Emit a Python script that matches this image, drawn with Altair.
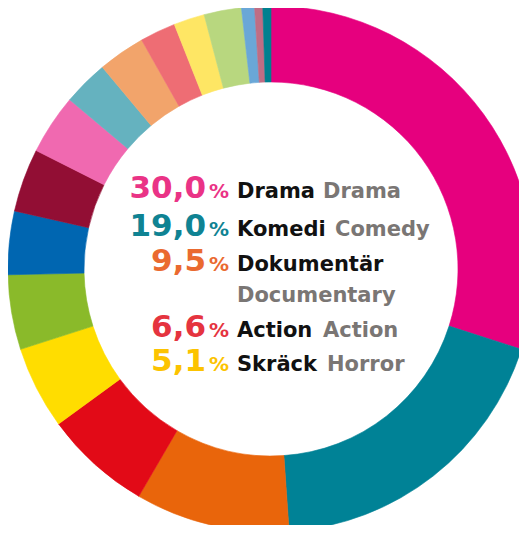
import altair as alt
import pandas as pd

categories = ["Drama", "Komedi", "Dokumentär", "Action", "Skräck", "Animation",
              "Thriller", "Kriminal", "Romantik", "Familj", "Äventyr",
              "Science fiction", "Fantasy", "Musikal", "Krig", "Western", "Övrigt"]
shares = [30.0, 19.0, 9.5, 6.6, 5.1, 4.6, 3.9, 3.9, 3.7, 2.8, 2.9, 2.2, 1.9, 2.3, 0.8, 0.5, 0.5]
slice_colors = ["#E6007E", "#008296", "#E9650B", "#E20A17", "#FFDD00", "#8ABA2A",
                "#0066B1", "#920E34", "#F069B0", "#65B2BF", "#F2A46B", "#EE6D74",
                "#FEE664", "#B8D77F", "#6AA7D7", "#BF6D84", "#00808F"]

pct_labels = ["30,0", "19,0", "9,5", "6,6", "5,1"]
sv_labels = ["Drama", "Komedi", "Dokumentär", "Action", "Skräck"]
en_labels = ["Drama", "Comedy", "Documentary", "Action", "Horror"]
pct_colors = ["#EA3386", "#0F8393", "#EA6A30", "#E5343F", "#FCC300"]

W, H = 511, 517
CX, CY = 263, 261
R_OUT, R_IN = 263, 187

df = pd.DataFrame({"cat": categories, "share": shares, "idx": list(range(len(categories)))})

color_scale = alt.Scale(domain=categories, range=slice_colors)
ring = alt.Chart(df).mark_arc(radius=R_OUT, radius2=R_IN, strokeWidth=0.6).encode(
    theta=alt.Theta("share:Q", stack=True),
    order=alt.Order("idx:Q"),
    color=alt.Color("cat:N", scale=color_scale, legend=None),
    stroke=alt.Stroke("cat:N", scale=color_scale, legend=None),
    x=alt.value(CX),
    y=alt.value(CY),
)

# text layout (pixels)
line_y = [190, 228, 263, 329, 363]
en_y = [190, 228, 294, 329, 363]
en_x = [315, 327, 229, 315, 319]

tdf = pd.DataFrame({
    "pct": pct_labels, "sv": sv_labels, "en": en_labels,
    "pcol": pct_colors, "y": line_y, "ey": en_y, "ex": en_x,
})

FONT = "DejaVu Sans"
base = alt.Chart(tdf)
num = base.mark_text(font=FONT, fontWeight="bold", fontSize=31, align="right", baseline="alphabetic").encode(
    x=alt.value(198), y=alt.Y("y:Q", scale=None), text="pct:N",
    color=alt.Color("pcol:N", scale=None))
pc = base.mark_text(font=FONT, fontWeight="bold", fontSize=20, align="right", baseline="alphabetic").encode(
    x=alt.value(221), y=alt.Y("y:Q", scale=None), text=alt.value("%"),
    color=alt.Color("pcol:N", scale=None))
sv = base.mark_text(font=FONT, fontWeight="bold", fontSize=21, align="left", baseline="alphabetic", color="#111111").encode(
    x=alt.value(229), y=alt.Y("y:Q", scale=None), text="sv:N")
en = base.mark_text(font=FONT, fontWeight="bold", fontSize=21, align="left", baseline="alphabetic", color="#7A7674").encode(
    x=alt.X("ex:Q", scale=None), y=alt.Y("ey:Q", scale=None), text="en:N")

chart = alt.layer(ring, num, pc, sv, en).properties(
    width=W, height=H, padding=0, autosize=alt.AutoSizeParams(type="none")
).configure_view(stroke=None)

chart.save("out.html", embed_options={"renderer": "svg", "actions": False})
